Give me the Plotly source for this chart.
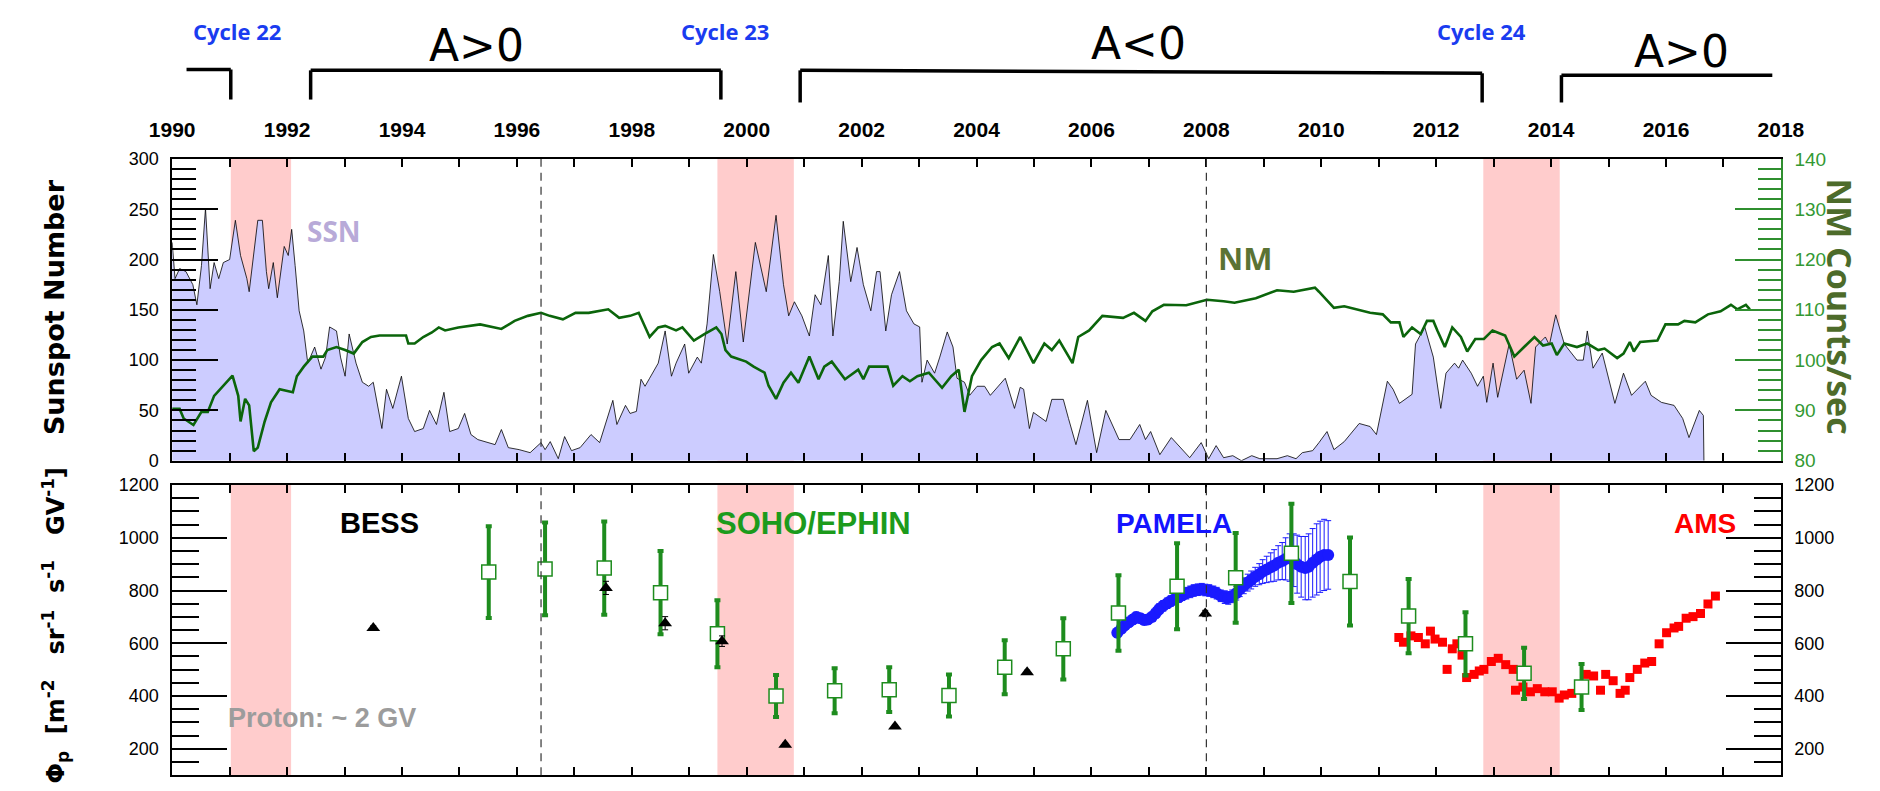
import plotly.graph_objects as go

W, H = 1880, 791

# ---------------- data ----------------
ssn_year = [1990.00, 1990.05, 1990.13, 1990.24, 1990.36, 1990.43, 1990.51, 1990.58, 1990.66, 1990.73,
            1990.81, 1990.89, 1991.00, 1991.10, 1991.19, 1991.30, 1991.34, 1991.49, 1991.57, 1991.64,
            1991.68, 1991.76, 1991.83, 1991.95, 1992.02, 1992.08, 1992.14, 1992.21, 1992.29, 1992.36,
            1992.48, 1992.59, 1992.67, 1992.74, 1992.86, 1992.93, 1993.01, 1993.08, 1993.20, 1993.31,
            1993.42, 1993.50, 1993.65, 1993.73, 1993.84, 1993.99, 1994.11, 1994.22, 1994.37, 1994.48,
            1994.60, 1994.73, 1994.83, 1994.98, 1995.09, 1995.20, 1995.32, 1995.43, 1995.62, 1995.73,
            1995.85, 1996.04, 1996.23, 1996.42, 1996.49, 1996.58, 1996.72, 1996.83, 1996.95, 1997.10,
            1997.29, 1997.44, 1997.55, 1997.67, 1997.74, 1997.89, 1997.97, 1998.08, 1998.16, 1998.23,
            1998.31, 1998.46, 1998.58, 1998.69, 1998.77, 1998.92, 1998.99, 1999.14, 1999.21, 1999.31,
            1999.42, 1999.53, 1999.66, 1999.81, 1999.94, 2000.15, 2000.34, 2000.51, 2000.64, 2000.73,
            2000.83, 2000.96, 2001.09, 2001.19, 2001.29, 2001.42, 2001.50, 2001.61, 2001.68, 2001.81,
            2001.92, 2002.03, 2002.16, 2002.26, 2002.32, 2002.42, 2002.52, 2002.66, 2002.78, 2002.91,
            2003.01, 2003.05, 2003.14, 2003.27, 2003.36, 2003.49, 2003.59, 2003.66, 2003.79, 2003.88,
            2004.01, 2004.14, 2004.24, 2004.37, 2004.50, 2004.66, 2004.76, 2004.82, 2004.92, 2004.99,
            2005.21, 2005.31, 2005.51, 2005.60, 2005.73, 2005.93, 2006.09, 2006.25, 2006.48, 2006.67,
            2006.84, 2006.94, 2007.03, 2007.19, 2007.39, 2007.71, 2007.91, 2008.04, 2008.17, 2008.30,
            2008.46, 2008.61, 2008.79, 2008.93, 2009.23, 2009.41, 2009.56, 2009.67, 2009.85, 2009.96,
            2010.10, 2010.22, 2010.40, 2010.66, 2010.85, 2010.96, 2011.15, 2011.25, 2011.36, 2011.58,
            2011.64, 2011.80, 2011.95, 2012.08, 2012.17, 2012.32, 2012.39, 2012.46, 2012.61, 2012.72,
            2012.82, 2012.88, 2012.99, 2013.07, 2013.27, 2013.40, 2013.53, 2013.65, 2013.73, 2013.90,
            2013.97, 2014.08, 2014.23, 2014.45, 2014.56, 2014.63, 2014.73, 2014.89, 2015.11, 2015.26,
            2015.40, 2015.64, 2015.74, 2015.92, 2016.14, 2016.29, 2016.40, 2016.58, 2016.65, 2016.66]
ssn_value = [217, 181, 191, 188, 175, 155, 194, 251, 171, 197,
             181, 197, 200, 239, 204, 181, 168, 239, 239, 188,
             171, 197, 162, 213, 204, 230, 194, 149, 129, 97,
             113, 91, 103, 133, 129, 103, 84, 126, 97, 78,
             74, 78, 32, 71, 52, 84, 42, 29, 32, 50,
             36, 68, 29, 32, 47, 26, 21, 19, 16, 31,
             13, 11, 8, 18, 11, 19, 2, 24, 10, 13,
             26, 18, 39, 60, 36, 55, 47, 49, 81, 74,
             82, 97, 129, 84, 97, 116, 87, 103, 97, 136,
             205, 168, 116, 188, 118, 217, 168, 244, 175, 144,
             158, 144, 124, 165, 155, 204, 124, 178, 238, 178,
             212, 175, 149, 188, 188, 129, 165, 188, 149, 136,
             133, 78, 100, 87, 103, 128, 113, 82, 78, 65,
             74, 74, 65, 74, 82, 52, 73, 71, 32, 48,
             39, 61, 61, 42, 16, 60, 8, 50, 21, 21,
             36, 21, 29, 6, 23, 3, 18, 2, 15, 3,
             5, 0, 5, 2, 2, 5, 2, 8, 10, 18,
             29, 11, 19, 37, 34, 26, 79, 71, 57, 66,
             116, 133, 103, 52, 87, 97, 92, 100, 87, 74,
             84, 58, 97, 63, 116, 81, 90, 57, 113, 123,
             115, 145, 116, 100, 100, 129, 92, 107, 57, 87,
             65, 79, 65, 58, 55, 42, 23, 50, 45, 0]

nm_year = [1990.00, 1990.13, 1990.20, 1990.37, 1990.51, 1990.62, 1990.73, 1990.89, 1991.05, 1991.15,
           1991.19, 1991.27, 1991.34, 1991.42, 1991.49, 1991.61, 1991.72, 1991.87, 1992.10, 1992.17,
           1992.29, 1992.44, 1992.63, 1992.70, 1992.86, 1993.01, 1993.16, 1993.31, 1993.46, 1993.61,
           1994.07, 1994.11, 1994.22, 1994.37, 1994.52, 1994.64, 1994.75, 1994.98, 1995.36, 1995.73,
           1995.96, 1996.19, 1996.42, 1996.57, 1996.80, 1997.02, 1997.25, 1997.59, 1997.78, 1997.97,
           1998.12, 1998.31, 1998.46, 1998.58, 1998.77, 1998.88, 1999.08, 1999.27, 1999.47, 1999.56,
           1999.63, 1999.73, 1999.99, 2000.12, 2000.31, 2000.38, 2000.51, 2000.64, 2000.77, 2000.90,
           2001.09, 2001.25, 2001.35, 2001.48, 2001.71, 2001.94, 2002.03, 2002.13, 2002.45, 2002.55,
           2002.71, 2002.84, 2002.97, 2003.17, 2003.40, 2003.56, 2003.69, 2003.79, 2003.92, 2004.08,
           2004.27, 2004.40, 2004.56, 2004.76, 2004.99, 2005.18, 2005.31, 2005.44, 2005.67, 2005.77,
           2005.96, 2006.19, 2006.55, 2006.74, 2006.94, 2007.06, 2007.26, 2007.65, 2008.01, 2008.30,
           2008.49, 2008.86, 2009.23, 2009.52, 2009.89, 2009.96, 2010.22, 2010.40, 2010.63, 2010.85,
           2011.07, 2011.21, 2011.36, 2011.43, 2011.58, 2011.73, 2011.84, 2011.95, 2012.02, 2012.15,
           2012.28, 2012.43, 2012.54, 2012.68, 2012.83, 2012.98, 2013.20, 2013.36, 2013.53, 2013.71,
           2013.86, 2014.01, 2014.10, 2014.23, 2014.45, 2014.63, 2014.82, 2014.93, 2015.15, 2015.26,
           2015.37, 2015.44, 2015.55, 2015.85, 2015.99, 2016.21, 2016.32, 2016.51, 2016.73, 2016.95,
           2017.13, 2017.24, 2017.39, 2017.46]
nm_rate = [90.3, 90.3, 88.4, 87.1, 89.7, 89.7, 92.9, 94.9, 96.9, 92.9,
           87.8, 92.3, 91.0, 81.9, 82.6, 87.8, 91.6, 94.2, 93.6, 96.8,
           98.7, 100.7, 100.7, 102.0, 102.6, 102.0, 101.3, 103.6, 104.6, 104.9,
           104.9, 103.3, 103.3, 104.6, 105.5, 106.5, 105.9, 106.5, 107.1, 106.2,
           107.8, 108.8, 109.4, 108.8, 108.1, 109.4, 109.4, 110.1, 108.4, 108.8,
           109.4, 104.6, 106.5, 106.8, 105.9, 106.5, 103.9, 105.2, 106.5, 105.2,
           102.0, 100.7, 99.7, 98.7, 97.5, 94.9, 92.3, 95.5, 97.5, 95.5,
           100.7, 96.2, 98.7, 99.7, 96.2, 98.1, 96.2, 98.7, 98.7, 94.9,
           96.8, 95.8, 96.8, 97.5, 94.5, 96.8, 98.1, 89.7, 96.8, 100.0,
           102.6, 103.3, 100.4, 104.6, 99.4, 103.3, 102.0, 103.9, 99.4, 104.6,
           105.9, 108.8, 108.4, 109.4, 107.8, 109.7, 111.0, 110.9, 112.0, 111.7,
           111.4, 112.3, 113.9, 113.6, 114.4, 113.6, 110.4, 110.7, 110.1, 109.4,
           109.1, 107.5, 107.5, 104.6, 106.5, 105.2, 107.8, 107.8, 105.9, 102.6,
           106.5, 104.6, 101.7, 104.2, 104.2, 105.9, 104.9, 100.7, 102.6, 104.6,
           102.9, 103.3, 101.0, 103.3, 102.6, 103.3, 102.0, 102.3, 100.4, 101.3,
           103.6, 101.7, 103.6, 103.9, 107.1, 107.1, 107.8, 107.5, 109.1, 109.7,
           111.0, 110.1, 111.0, 110.1]

soho_year = [1995.51, 1996.49, 1997.52, 1998.50, 1999.49, 2000.51, 2001.53, 2002.48, 2003.52, 2004.49,
             2005.51, 2006.47, 2007.49, 2008.51, 2009.48, 2010.50, 2011.52, 2012.51, 2013.53, 2014.53]
soho_flux = [870, 882, 885, 792, 636, 400, 420, 424, 402, 509,
             579, 715, 816, 848, 941, 834, 703, 598, 486, 434]
soho_err = [174, 176, 177, 158, 127, 80, 85, 85, 80, 102,
            116, 143, 163, 170, 188, 167, 141, 120, 97, 87]

bess_year = [1993.50, 1997.55, 1998.58, 1999.57, 2000.67, 2002.58, 2004.88, 2007.98]
bess_flux = [658, 810, 676, 608, 215, 284, 490, 713]
bess_err = [8, 25, 25, 20, 6, 6, 8, 12]

pamela_year = [2006.45, 2006.52, 2006.58, 2006.65, 2006.72, 2006.78, 2006.85, 2006.92, 2006.98, 2007.05,
               2007.12, 2007.18, 2007.25, 2007.32, 2007.38, 2007.45, 2007.52, 2007.58, 2007.65, 2007.72,
               2007.78, 2007.85, 2007.92, 2007.98, 2008.05, 2008.12, 2008.18, 2008.25, 2008.32, 2008.38,
               2008.45, 2008.52, 2008.58, 2008.65, 2008.72, 2008.78, 2008.85, 2008.92, 2008.98, 2009.05,
               2009.12, 2009.18, 2009.25, 2009.32, 2009.38, 2009.45, 2009.52, 2009.58, 2009.65, 2009.72,
               2009.78, 2009.85, 2009.92, 2009.98, 2010.05, 2010.12]
pamela_flux = [640, 655, 668, 680, 690, 700, 695, 688, 690, 700,
               715, 730, 742, 752, 760, 768, 775, 782, 790, 795,
               800, 803, 805, 802, 800, 795, 790, 780, 775, 772,
               778, 790, 805, 818, 830, 840, 852, 862, 872, 880,
               888, 895, 905, 912, 920, 925, 915, 900, 890, 885,
               890, 905, 918, 928, 935, 935]
pamela_err = [18, 18, 18, 18, 18, 18, 18, 18, 18, 18,
              20, 20, 20, 20, 20, 20, 20, 20, 22, 22,
              22, 22, 22, 22, 22, 22, 22, 22, 24, 24,
              24, 26, 28, 30, 32, 34, 36, 40, 45, 50,
              55, 60, 65, 70, 80, 90, 100, 110, 115, 120,
              125, 130, 135, 135, 135, 130]

ams_year = [2011.35, 2011.43, 2011.56, 2011.69, 2011.81, 2011.90, 2011.98, 2012.11, 2012.19, 2012.28,
            2012.36, 2012.45, 2012.53, 2012.66, 2012.75, 2012.83, 2012.96, 2013.08, 2013.21, 2013.34,
            2013.38, 2013.51, 2013.64, 2013.76, 2013.89, 2014.02, 2014.14, 2014.23, 2014.36, 2014.48,
            2014.61, 2014.74, 2014.86, 2014.95, 2015.08, 2015.20, 2015.29, 2015.37, 2015.50, 2015.63,
            2015.75, 2015.88, 2016.01, 2016.14, 2016.22, 2016.35, 2016.47, 2016.60, 2016.73, 2016.86]
ams_flux = [622, 604, 628, 622, 598, 646, 616, 604, 501, 579,
            598, 555, 470, 482, 495, 501, 531, 543, 519, 501,
            422, 434, 416, 428, 416, 416, 392, 404, 410, 434,
            482, 476, 422, 482, 458, 410, 422, 470, 501, 525,
            531, 598, 640, 658, 664, 695, 701, 713, 749, 779]

reversal_start = [1991.02, 1999.49, 2012.82]
reversal_end = [1992.07, 2000.82, 2014.15]
dashed_years = [1996.42, 2008.0]

cycle_labels = ["Cycle 22", "Cycle 23", "Cycle 24"]
polarity_labels = ["A>0", "A<0", "A>0"]
bracket_start = [1990.25, 1992.41, 2000.93, 2014.18]
bracket_end = [1991.02, 1999.55, 2012.80, 2017.85]

# ---------------- layout helpers ----------------
def px(x):
    return x / W

def py(y):
    return 1 - y / H

X0, X1 = px(153), px(1803)
TOP = [py(463), py(153)]
BOT = [py(786), py(488)]

ARIAL = "Liberation Sans, Arial, sans-serif"
GREEN_AX = "#2f8f2f"

fig = go.Figure()

fig.add_trace(go.Scatter(x=ssn_year, y=ssn_value, mode="lines", fill="tozeroy",
                         fillcolor="#ccccff", line=dict(color="black", width=0.8),
                         xaxis="x", yaxis="y", showlegend=False, hoverinfo="skip"))
fig.add_trace(go.Scatter(x=nm_year, y=nm_rate, mode="lines",
                         line=dict(color="#0b650b", width=2.6),
                         xaxis="x", yaxis="y2", showlegend=False))

fig.add_trace(go.Scatter(x=pamela_year, y=pamela_flux, mode="markers",
                         marker=dict(symbol="circle", size=12, color="#1a1aff"),
                         error_y=dict(type="data", array=pamela_err, color="#1a1aff", thickness=1, width=3),
                         xaxis="x2", yaxis="y3", showlegend=False))
fig.add_trace(go.Scatter(x=ams_year, y=ams_flux, mode="markers",
                         marker=dict(symbol="square", size=9, color="#ff0000"),
                         xaxis="x2", yaxis="y3", showlegend=False))
fig.add_trace(go.Scatter(x=soho_year, y=soho_flux, mode="markers",
                         marker=dict(symbol="square", size=14, color="white",
                                     line=dict(color="#1e8c1e", width=1.5)),
                         error_y=dict(type="data", array=soho_err, color="#1e8c1e", thickness=4, width=3),
                         xaxis="x2", yaxis="y3", showlegend=False))
fig.add_trace(go.Scatter(x=bess_year, y=bess_flux, mode="markers",
                         marker=dict(symbol="triangle-up", size=12, color="black"),
                         error_y=dict(type="data", array=bess_err, color="black", thickness=1, width=3),
                         xaxis="x2", yaxis="y3", showlegend=False))

shapes = []
for s, e in zip(reversal_start, reversal_end):
    for yr in ["y domain", "y3 domain"]:
        shapes.append(dict(type="rect", xref="x", yref=yr, x0=s, x1=e, y0=0, y1=1,
                           fillcolor="#ffcccc", line=dict(width=0), layer="below"))
for d in dashed_years:
    for xr, yr in [("x", "y domain"), ("x2", "y3 domain")]:
        shapes.append(dict(type="line", xref=xr, yref=yr, x0=d, x1=d, y0=0, y1=1,
                           line=dict(color="#333333", width=1.2, dash="8px,6px"), layer="above"))

# polarity brackets above the plot
b_top = [61, 62, 62, 67]
b_top_end = [61, 62, 65, 67]
b_bot = [92, 92, 95, 95]
left_tick = [False, True, True, True]
right_tick = [True, True, True, False]
for i in range(4):
    shapes.append(dict(type="line", xref="x", yref="paper", x0=bracket_start[i], x1=bracket_end[i],
                       y0=py(b_top[i]), y1=py(b_top_end[i]), line=dict(color="black", width=3.5)))
    if left_tick[i]:
        shapes.append(dict(type="line", xref="x", yref="paper", x0=bracket_start[i], x1=bracket_start[i],
                           y0=py(b_top[i]), y1=py(b_bot[i]), line=dict(color="black", width=3.5)))
    if right_tick[i]:
        shapes.append(dict(type="line", xref="x", yref="paper", x0=bracket_end[i], x1=bracket_end[i],
                           y0=py(b_top_end[i]), y1=py(b_bot[i]), line=dict(color="black", width=3.5)))

ann = []
def text(x, y, s, size, color, family="Open Sans, sans-serif", weight="bold", angle=0):
    ann.append(dict(x=px(x), y=py(y), xref="paper", yref="paper", text=s, showarrow=False,
                    xanchor="center", yanchor="middle", textangle=angle,
                    font=dict(size=size, color=color, family=family, weight=weight)))

for lab, cx in zip(cycle_labels, [219, 720, 1496]):
    text(cx, 22, lab, 22, "#1a3cf0")
for lab, cx, cy in zip(polarity_labels, [465, 1144, 1701], [36, 34, 43]):
    text(cx, cy, lab, 44, "black", family="DejaVu Sans, sans-serif", weight="normal")

text(319, 227, "SSN", 28, "#b8aad8")
text(1253, 255, "NM", 31, "#5b7334")
text(366, 527, "BESS", 29, "black", family=ARIAL)
text(811, 527, "SOHO/EPHIN", 31, "#1c9b1c", family=ARIAL)
text(1181, 528, "PAMELA", 28, "#1414ff", family=ARIAL)
text(1725, 527, "AMS", 28, "#ff0000", family=ARIAL)
text(307, 727, "Proton: ~ 2 GV", 27, "#9c9c9c", family=ARIAL)

text(33, 305, "Sunspot Number", 27, "black", family="DejaVu Sans, sans-serif", angle=-90)
nb = "\u00a0"
text(33, 632, "Φ<sub>p</sub>" + nb * 2 + "[m<sup>-2</sup>" + nb * 3 + "sr<sup>-1</sup>" + nb * 2 +
     "s<sup>-1</sup>" + nb * 3 + "GV<sup>-1</sup>]", 24, "black",
     family="DejaVu Sans, sans-serif", angle=-90)
text(1864, 305, "NM Counts/sec", 34, "#4d6b2a", angle=90)

axis_common = dict(showgrid=False, zeroline=False, showline=True, linewidth=1.5, ticks="inside")

fig.update_layout(
    width=W, height=H, autosize=False,
    margin=dict(l=0, r=0, t=0, b=0),
    paper_bgcolor="white", plot_bgcolor="white",
    showlegend=False,
    shapes=shapes, annotations=ann,
    xaxis=dict(domain=[X0, X1], range=[1990, 2018], anchor="y", side="top",
               tickmode="linear", tick0=1990, dtick=2,
               ticklen=8, tickwidth=1.5, tickcolor="black", linecolor="black", mirror="ticks",
               minor=dict(dtick=1, tick0=1990, ticklen=8, tickwidth=1.5, tickcolor="black", ticks="inside"),
               ticklabelstandoff=12,
               tickfont=dict(family=ARIAL, size=21, color="black", weight="bold"), **axis_common),
    yaxis=dict(domain=TOP, range=[0, 300], anchor="x", tickmode="linear", tick0=0, dtick=50,
               ticklen=46, tickwidth=1.5, tickcolor="black", linecolor="black",
               minor=dict(dtick=10, ticklen=24, tickwidth=1.5, tickcolor="black", ticks="inside"),
               ticklabelstandoff=8,
               tickfont=dict(family=ARIAL, size=18, color="black"), **axis_common),
    yaxis2=dict(overlaying="y", side="right", range=[80, 140], anchor="x", tickmode="linear",
                tick0=80, dtick=10, ticklen=46, tickwidth=1.5, tickcolor=GREEN_AX, linecolor=GREEN_AX,
                minor=dict(dtick=2, ticklen=23, tickwidth=1.5, tickcolor=GREEN_AX, ticks="inside"),
                ticklabelstandoff=8,
                tickfont=dict(family=ARIAL, size=19, color="#339933"), **axis_common),
    xaxis2=dict(domain=[X0, X1], range=[1990, 2018], anchor="y3", tickmode="linear", tick0=1990, dtick=1,
                showticklabels=False, ticklen=8, tickwidth=1.5, tickcolor="black", linecolor="black",
                mirror="ticks", **axis_common),
    yaxis3=dict(domain=BOT, range=[100, 1200], anchor="x2", tickmode="linear", tick0=0, dtick=200,
                ticklen=55, tickwidth=1.5, tickcolor="black", linecolor="black",
                minor=dict(dtick=50, ticklen=27, tickwidth=1.5, tickcolor="black", ticks="inside"),
                ticklabelstandoff=8,
                tickfont=dict(family=ARIAL, size=18, color="black"), **axis_common),
    yaxis4=dict(overlaying="y3", side="right", range=[100, 1200], anchor="x2", tickmode="linear",
                tick0=0, dtick=200, ticklen=55, tickwidth=1.5, tickcolor="black", linecolor="black",
                minor=dict(dtick=50, ticklen=27, tickwidth=1.5, tickcolor="black", ticks="inside"),
                ticklabelstandoff=8,
                tickfont=dict(family=ARIAL, size=18, color="black"), **axis_common),
)

# invisible trace so yaxis4 is drawn
fig.add_trace(go.Scatter(x=[1990], y=[100], mode="markers", marker=dict(opacity=0),
                         xaxis="x2", yaxis="y4", showlegend=False, hoverinfo="skip"))

fig.write_html("out.html")
